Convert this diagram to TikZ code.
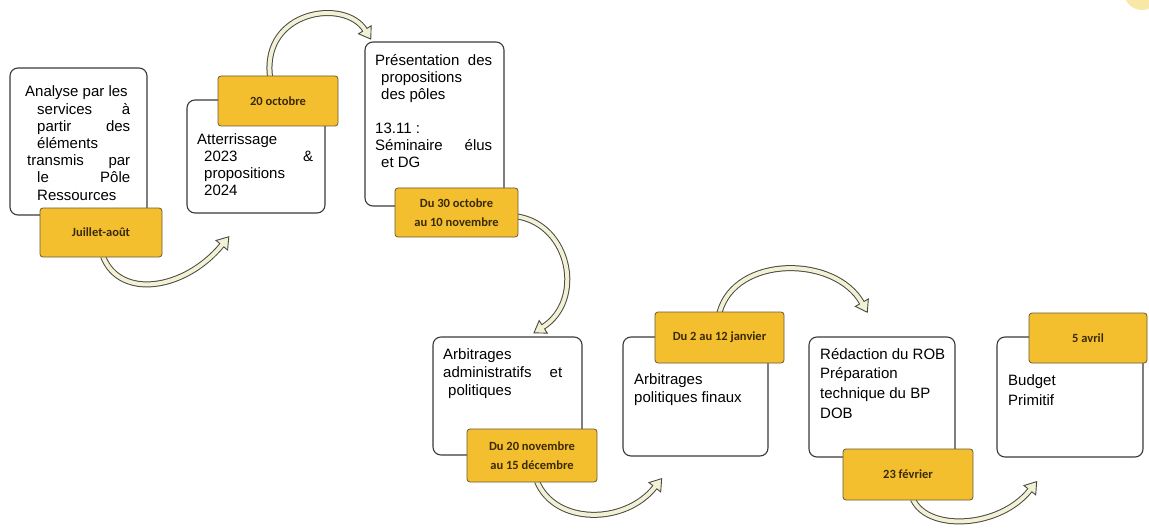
\documentclass[tikz,border=0pt]{standalone}
\usepackage{fontspec}
\setmainfont{Liberation Sans}
\newfontfamily\tagfont{Carlito}
\usetikzlibrary{calc,decorations.markings,backgrounds}
\definecolor{boxline}{HTML}{3A3A3A}
\definecolor{tagfill}{HTML}{F4BF2E}
\definecolor{tagline}{HTML}{6B5A34}
\definecolor{tagtext}{HTML}{3A2A05}
\definecolor{arrowdark}{HTML}{4A4A3C}
\definecolor{arrowfill}{HTML}{F2F0D6}
\definecolor{blob}{HTML}{F9E7A6}
\begin{document}
\begin{tikzpicture}[x=1pt,y=-1pt,
  stepbox/.style={draw=boxline, line width=1.1pt, fill=white, rounded corners=8pt, inner sep=0pt},
  tagbox/.style={draw=tagline, line width=0.8pt, fill=tagfill, rounded corners=3pt, inner sep=0pt,
    font=\tagfont\bfseries\fontsize{12.5}{19}\selectfont, text=tagtext, align=center},
  boxtext/.style={anchor=base west, inner sep=0pt, font=\fontsize{15}{17}\selectfont},
  flow/.style={draw=arrowfill, line width=4pt,
    preaction={draw=arrowdark, line width=6pt},
    postaction={decorate},
    decoration={markings, mark=at position 0.998 with {
      \filldraw[draw=arrowdark, fill=arrowfill, line width=0.9pt, line join=miter]
        (0,2.2) -- (0,7.5) -- (11,0) -- (0,-7.5) -- (0,-2.2);}}}
]
\useasboundingbox (0,0) rectangle (1149,532);
\begin{scope}
  \clip (0,0) rectangle (1149,532);
  \fill[blob] (1142,-8) circle (18);
\end{scope}

% boxes
\node[stepbox, minimum width=137pt, minimum height=147pt] (b1) at (78.5,141.5) {};
\node[stepbox, minimum width=138pt, minimum height=113pt] (b2) at (256,156.5) {};
\node[stepbox, minimum width=139pt, minimum height=164pt] (b3) at (434.5,124) {};
\node[stepbox, minimum width=149pt, minimum height=118pt] (b4) at (507.5,396) {};
\node[stepbox, minimum width=145pt, minimum height=119pt] (b5) at (695.5,396.5) {};
\node[stepbox, minimum width=146pt, minimum height=120pt] (b6) at (882,397) {};
\node[stepbox, minimum width=146pt, minimum height=120pt] (b7) at (1070,397) {};

% box texts
\node[boxtext] (x1) at (25,97) {\fontsize{15}{17.2}\selectfont\parbox[t]{105pt}{Analyse par les\\
  \hspace*{12pt}services\hfill à\\
  \hspace*{12pt}partir\hfill des\\
  \hspace*{12pt}éléments\\
  \hspace*{2pt}transmis\hfill par\\
  \hspace*{12pt}le\hfill Pôle\\
  \hspace*{12pt}Ressources}};
\node[boxtext] (x2) at (197,145) {\parbox[t]{116pt}{Atterrissage\\
  \hspace*{7pt}2023\hfill \&\\
  \hspace*{7pt}propositions\\
  \hspace*{7pt}2024}};
\node[boxtext] (x3) at (375,66) {\parbox[t]{117pt}{Présentation\hfill des\\
  \hspace*{6pt}propositions\\
  \hspace*{6pt}des pôles\\[17pt]
  13.11 :\\
  Séminaire\hfill élus\\
  \hspace*{6pt}et DG}};
\node[boxtext] (x4) at (443,359) {\fontsize{15}{18}\selectfont\parbox[t]{119pt}{Arbitrages\\
  administratifs\hfill et\\
  \hspace*{5pt}politiques}};
\node[boxtext] (x5) at (634,384) {\fontsize{15}{18}\selectfont\parbox[t]{125pt}{Arbitrages\\
  politiques finaux}};
\node[boxtext] (x6) at (820,359) {\fontsize{15}{19.7}\selectfont\parbox[t]{128pt}{Rédaction du ROB\\
  Préparation\\
  technique du BP\\
  DOB}};
\node[boxtext] (x7) at (1008,385) {\fontsize{15}{20}\selectfont\parbox[t]{120pt}{Budget\\
  Primitif}};

% tags
\node[tagbox, minimum width=122pt, minimum height=49pt] (t1) at (101,232.5) {Juillet-août};
\node[tagbox, minimum width=120pt, minimum height=50pt] (t2) at (278,101) {20 octobre};
\node[tagbox, minimum width=123pt, minimum height=49pt] (t3) at (456.5,212.5) {Du 30 octobre\\au 10 novembre};
\node[tagbox, minimum width=130pt, minimum height=53pt] (t4) at (532,455.5) {Du 20 novembre\\au 15 décembre};
\node[tagbox, minimum width=129pt, minimum height=51pt] (t5) at (719.5,337.5) {Du 2 au 12 janvier};
\node[tagbox, minimum width=130pt, minimum height=51pt] (t6) at (908,474.5) {23 février};
\node[tagbox, minimum width=118pt, minimum height=50pt] (t7) at (1088,338) {5 avril};

% arrow end points
\coordinate (a1) at (222,245);
\coordinate (a2) at (365,30);
\coordinate (a3) at (543,327);
\coordinate (a4) at (655,487);
\coordinate (a5) at (862,303);
\coordinate (a6) at (1030,490);

\begin{pgfonlayer}{background}
\draw[flow] ($(t1.south)+(2,-1)$) .. controls (120,300) and (185,290) .. (a1);
\draw[flow] ($(t2.north)+(-8,1)$) .. controls (262,10) and (345,-2) .. (a2);
\draw[flow] ($(t3.east)+(-1,4)$) .. controls (570,225) and (585,300) .. (a3);
\draw[flow] ($(t4.south)+(5,-1)$) .. controls (555,525) and (625,525) .. (a4);
\draw[flow] ($(t5.north)+(0,1)$) .. controls (735,255) and (835,255) .. (a5);
\draw[flow] ($(t6.south)+(5,-1)$) .. controls (928,532) and (1000,528) .. (a6);
\end{pgfonlayer}
\end{tikzpicture}
\end{document}
